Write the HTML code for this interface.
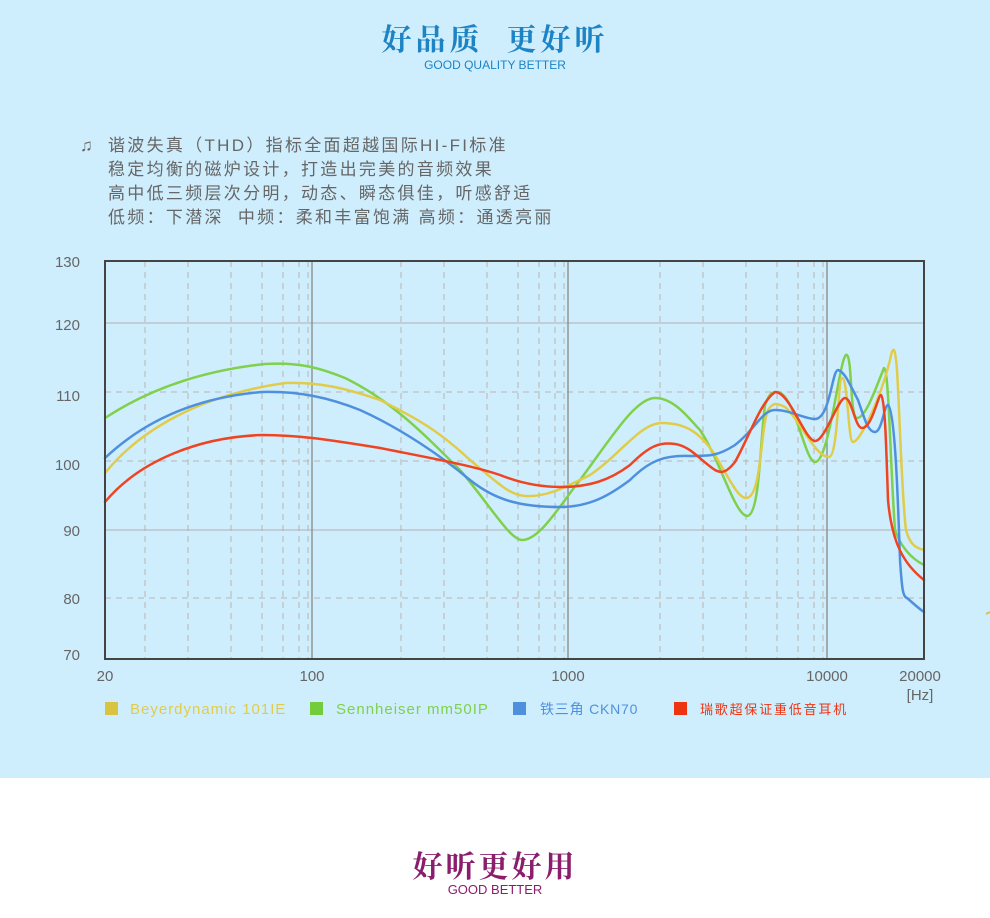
<!DOCTYPE html><html><head><meta charset="utf-8"><style>
body{margin:0;width:990px;height:918px;background:#fff;font-family:"Liberation Sans","Noto Sans CJK SC",sans-serif;overflow:hidden}
.top{position:absolute;left:0;top:0;width:990px;height:778px;background:#cfeefd}
.t{position:absolute;white-space:nowrap}
</style></head><body>
<div class="t" style="left:0;top:0;width:990px;height:778px;background:#cfeefd"></div>
<div class="t" style="left:0;width:990px;text-align:center;top:15px;font-family:'Noto Serif CJK SC',serif;font-weight:bold;font-size:30px;color:#1d83c4;letter-spacing:4px">好品质&nbsp;&nbsp;更好听</div>
<div class="t" style="left:0;width:990px;text-align:center;top:58px;font-size:12px;color:#1d83c4">GOOD QUALITY BETTER</div>
<div class="t" style="left:80px;top:134px;font-size:17px;color:#666;line-height:24px">♫</div>
<div class="t" style="left:108px;top:134px;font-size:17px;color:#666;line-height:24px;letter-spacing:2.3px">谐波失真（THD）指标全面超越国际HI-FI标准<br>稳定均衡的磁炉设计，打造出完美的音频效果<br>高中低三频层次分明，动态、瞬态俱佳，听感舒适<br>低频：下潜深&nbsp;&nbsp;中频：柔和丰富饱满 高频：通透亮丽</div>
<svg width="990" height="778" style="position:absolute;left:0;top:0" font-family="Liberation Sans,sans-serif">
<g stroke="#b8b4b0" stroke-width="1" stroke-dasharray="6,5">
<line x1="105" x2="924" y1="392" y2="392"/><line x1="105" x2="924" y1="461" y2="461"/><line x1="105" x2="924" y1="598" y2="598"/>
<line x1="145" x2="145" y1="261" y2="659"/><line x1="188" x2="188" y1="261" y2="659"/><line x1="231" x2="231" y1="261" y2="659"/><line x1="262" x2="262" y1="261" y2="659"/><line x1="283" x2="283" y1="261" y2="659"/><line x1="299" x2="299" y1="261" y2="659"/><line x1="308" x2="308" y1="261" y2="659"/>
<line x1="401" x2="401" y1="261" y2="659"/><line x1="444" x2="444" y1="261" y2="659"/><line x1="487" x2="487" y1="261" y2="659"/><line x1="518" x2="518" y1="261" y2="659"/><line x1="539" x2="539" y1="261" y2="659"/><line x1="555" x2="555" y1="261" y2="659"/><line x1="564" x2="564" y1="261" y2="659"/>
<line x1="660" x2="660" y1="261" y2="659"/><line x1="703" x2="703" y1="261" y2="659"/><line x1="746" x2="746" y1="261" y2="659"/><line x1="777" x2="777" y1="261" y2="659"/><line x1="798" x2="798" y1="261" y2="659"/><line x1="814" x2="814" y1="261" y2="659"/><line x1="823" x2="823" y1="261" y2="659"/>
</g>
<g stroke="#b0b0b0" stroke-width="1"><line x1="105" x2="924" y1="323" y2="323"/><line x1="105" x2="924" y1="530" y2="530"/></g>
<g stroke="#888" stroke-width="1.3"><line x1="312" x2="312" y1="261" y2="659"/><line x1="568" x2="568" y1="261" y2="659"/><line x1="827" x2="827" y1="261" y2="659"/></g>
<g fill="none" stroke-width="2.5" stroke-linejoin="round" stroke-linecap="round">
<path stroke="#7fd04a" d="M105,418 C140,395 190,372 265,364 C300,362 320,368 345,378 C390,400 420,430 460,470 C490,505 510,540 522,540 C540,540 560,505 580,480 C610,440 635,398 655,398 C675,398 690,420 700,430 C720,460 735,515 747,516 C760,516 760,440 765,405 C770,392 772,392 778,392 C795,395 805,462 815,462 C830,462 840,350 847,355 C852,360 850,410 856,418 C865,420 875,390 884,368 C889,370 890,460 895,530 C900,545 910,558 924,565"/>
<path stroke="#e0cc4a" d="M105,473 C140,430 200,395 285,383 C320,382 345,388 380,400 C420,420 440,432 470,460 C500,485 510,495 525,496 C545,497 560,490 590,475 C620,455 640,423 662,423 C685,423 700,432 715,455 C730,480 738,498 746,498 C762,498 760,430 768,410 C773,402 777,403 785,407 C800,420 815,457 829,457 C838,457 838,378 842,378 C848,378 848,442 853,442 C860,442 880,400 890,360 C893,345 895,345 897,370 C900,420 902,500 906,530 C910,545 916,548 924,550"/>
<path stroke="#4f90de" d="M105,458 C140,425 190,398 262,392 C300,391 330,398 360,410 C400,428 440,455 470,480 C495,500 520,507 560,507 C590,507 610,495 630,480 C650,460 665,455 690,456 C710,456 718,456 735,445 C755,430 762,410 775,410 C790,410 805,419 815,419 C830,419 832,370 838,370 C845,372 850,385 858,400 C865,420 868,432 875,432 C882,432 884,405 888,405 C895,410 898,500 900,560 C902,590 903,597 907,598 C913,603 918,608 924,612"/>
<path stroke="#ee4422" d="M105,502 C140,460 200,437 262,435 C300,435 330,440 380,448 C430,458 470,465 500,475 C520,483 540,487 560,487 C590,487 610,480 630,465 C650,445 660,442 675,444 C690,446 700,460 715,470 C722,474 727,472 735,462 C750,435 760,403 775,392 C790,392 805,441 815,441 C825,441 838,398 845,398 C852,398 855,428 862,428 C872,428 878,395 881,395 C885,400 886,440 888,500 C892,545 905,565 924,580"/>
</g>
<rect x="105" y="261" width="819" height="398" fill="none" stroke="#444" stroke-width="2"/>
<g font-size="15" fill="#666" text-anchor="end"><text x="80" y="267">130</text><text x="80" y="330">120</text><text x="80" y="401">110</text><text x="80" y="470">100</text><text x="80" y="536">90</text><text x="80" y="604">80</text><text x="80" y="660">70</text></g>
<g font-size="15" fill="#666" text-anchor="middle"><text x="105" y="681">20</text><text x="312" y="681">100</text><text x="568" y="681">1000</text><text x="827" y="681">10000</text><text x="920" y="681">20000</text><text x="920" y="700">[Hz]</text></g>
<rect x="105" y="702" width="13" height="13" fill="#d8c440"/><text x="130" y="714" font-size="15" fill="#e0cc4a" letter-spacing="1">Beyerdynamic 101IE</text>
<rect x="310" y="702" width="13" height="13" fill="#72cc3c"/><text x="336" y="714" font-size="15" fill="#7fd04a" letter-spacing="1">Sennheiser mm50IP</text>
<rect x="513" y="702" width="13" height="13" fill="#4f90de"/><text x="540" y="714" font-size="14" fill="#4f90de" letter-spacing="0.8" font-family="Liberation Sans,Noto Sans CJK SC,sans-serif">铁三角 CKN70</text>
<rect x="674" y="702" width="13" height="13" fill="#ee3311"/><text x="700" y="714" font-size="13" fill="#ee3311" letter-spacing="1.8" font-family="Noto Sans CJK SC,sans-serif">瑞歌超保证重低音耳机</text>
<line x1="986" y1="614" x2="990" y2="612" stroke="#d8c440" stroke-width="2"/>
</svg>
<div class="t" style="left:0;width:990px;text-align:center;top:842px;font-family:'Noto Serif CJK SC',serif;font-weight:bold;font-size:30px;color:#8a1d6c;letter-spacing:3px">好听更好用</div>
<div class="t" style="left:0;width:990px;text-align:center;top:882px;font-size:13px;color:#8a1d6c">GOOD BETTER</div>
</body></html>
